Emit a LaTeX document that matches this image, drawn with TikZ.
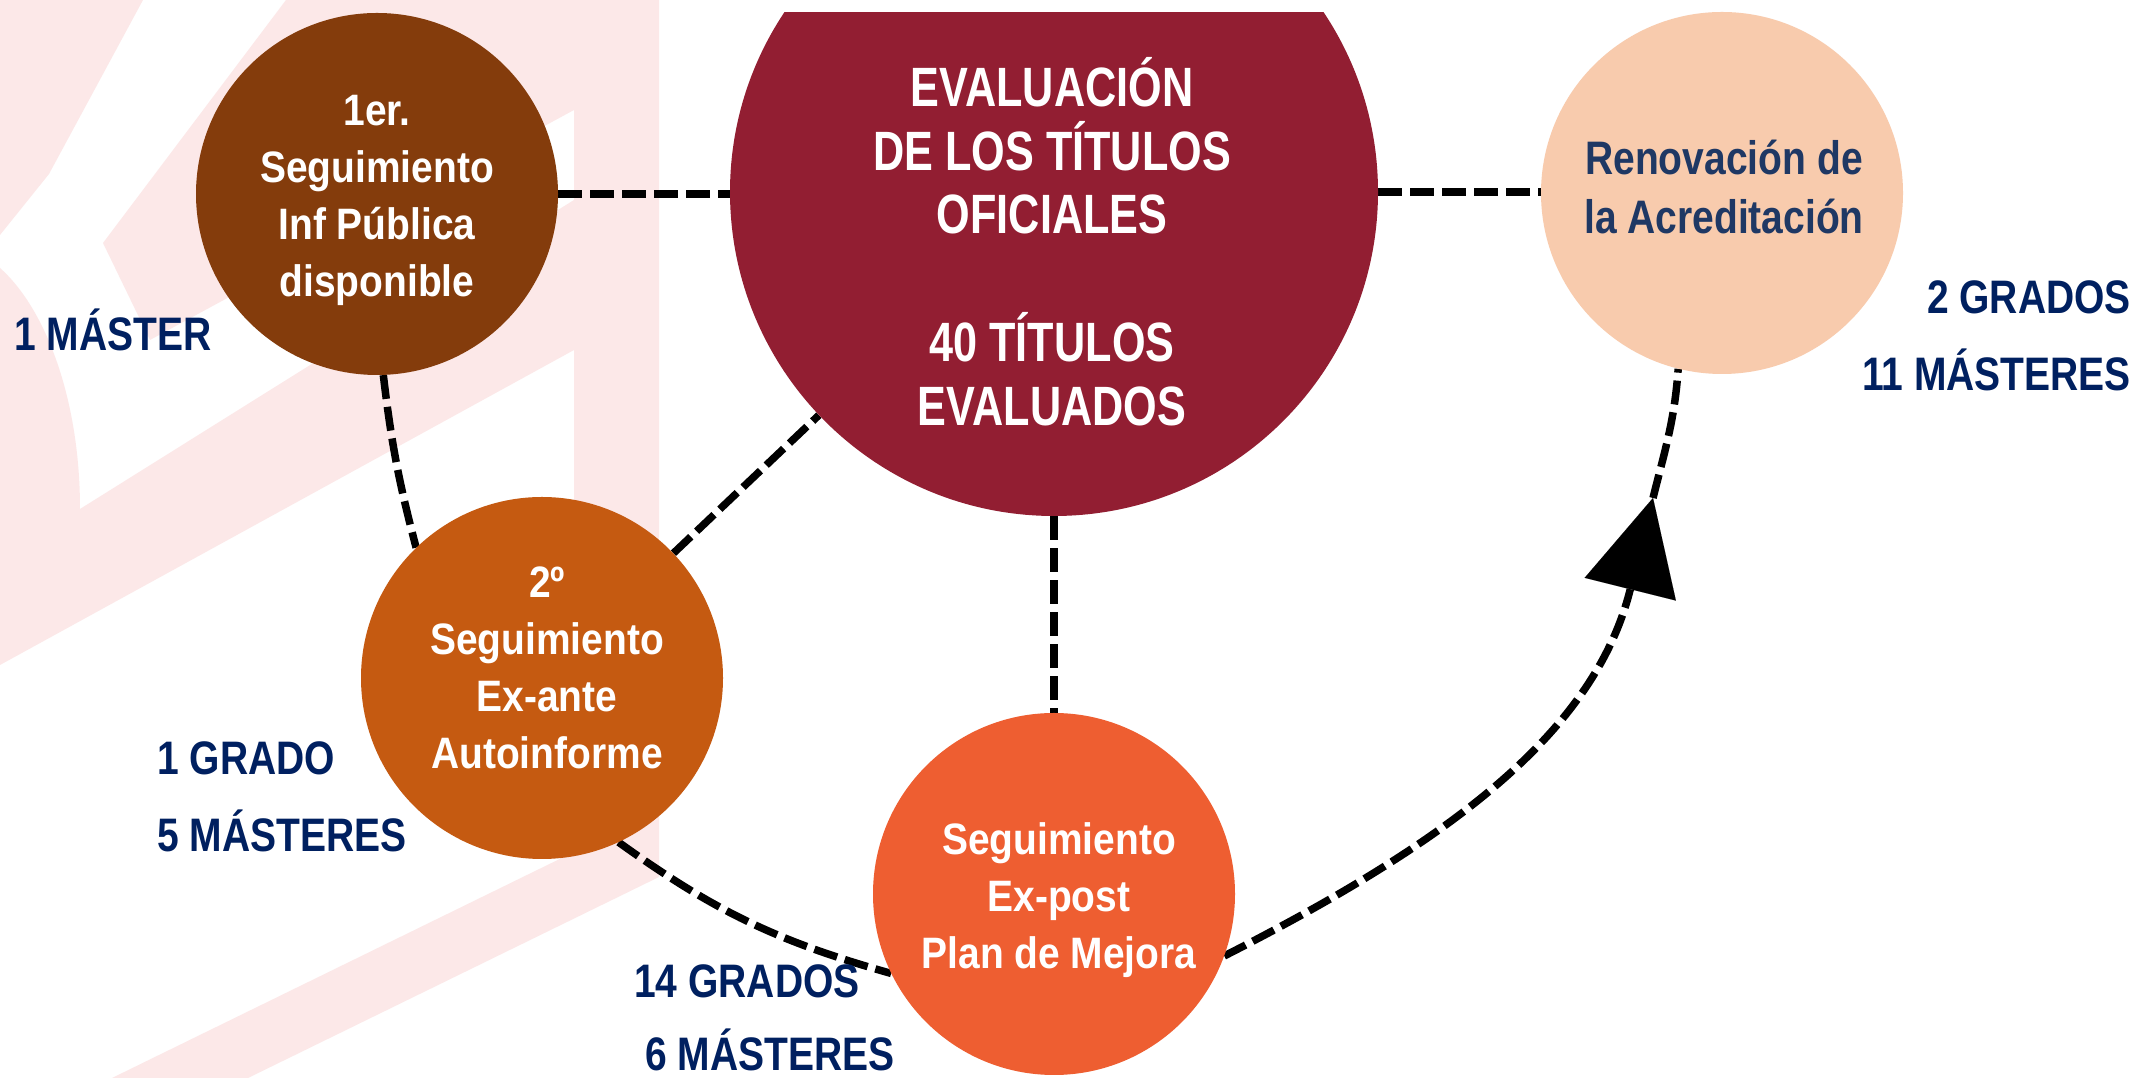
\documentclass[tikz,border=0pt]{standalone}
\usepackage{fontspec}
\setmainfont{Liberation Sans}
\newfontfamily\nfA[FakeStretch=0.885]{Liberation Sans}
\newfontfamily\nfB[FakeStretch=0.78]{Liberation Sans}
\newfontfamily\nfC[FakeStretch=0.83]{Liberation Sans}
\usetikzlibrary{arrows.meta}
\definecolor{cA}{HTML}{843C0C}
\definecolor{cB}{HTML}{C55A11}
\definecolor{cBig}{HTML}{921E32}
\definecolor{cReno}{HTML}{F8CBAD}
\definecolor{cPost}{HTML}{EE5E31}
\definecolor{renotxt}{HTML}{1F3864}
\definecolor{lbl}{HTML}{002060}
\definecolor{pinkbg}{HTML}{FCE8E8}
\pgfdeclarelayer{pinklayer}
\pgfdeclarelayer{linelayer}
\pgfsetlayers{pinklayer,linelayer,main}
\begin{document}
\begin{tikzpicture}[x=1pt,y=1pt,
  bubble/.style={circle, inner sep=0pt, minimum size=362pt, draw=none},
  ctext/.style={text=white, font=\nfA\bfseries\fontsize{44}{57}\selectfont, align=center, inner sep=0pt},
  lbltext/.style={text=lbl, font=\nfC\bfseries\fontsize{47}{77}\selectfont, inner sep=0pt},
  conn/.style={line width=7.5pt, dash pattern=on 24pt off 8pt, black},
]
\useasboundingbox (0,0) rectangle (2141,1078);
\begin{pgfonlayer}{pinklayer}
\fill[white] (0,0) rectangle (2141,1078);
% vertical band with lower diagonal stripe
\fill[pinkbg] (574,1078) -- (659,1078) -- (659,201) -- (248,0) -- (112,0) -- (574,226) -- cycle;
% top-left wedge
\fill[pinkbg] (0,1078) -- (143,1078) -- (49,904) -- (0,843) -- cycle;
% upper stroke behind the first circle
\fill[pinkbg] (286,1078) -- (574,1078) -- (574,968) -- (150,738) -- (103,835) -- cycle;
% left arc joined to the middle diagonal stripe
\fill[pinkbg] (0,810) .. controls (45,770) and (80,680) .. (80,569)
  -- (574,878) -- (574,728) -- (0,413) -- cycle;
\end{pgfonlayer}

% circles
\node[bubble, fill=cA] (c1) at (377,884) {};
\node[bubble, fill=cB] (c2) at (542,400) {};
\begin{scope}
  \clip (0,0) rectangle (2141,1065);
  \node[bubble, minimum size=648pt, fill=cBig] (big) at (1054,886) {};
\end{scope}
\node[bubble, fill=cReno] (reno) at (1722,885) {};
\node[bubble, fill=cPost] (expost) at (1054,184) {};

% circle texts
\node[ctext] (t1) at (377,877.5) {1er.\\Seguimiento\\Inf Pública\\disponible};
\node[ctext] (t2) at (547,410) {2º\\Seguimiento\\Ex-ante\\Autoinforme};
\node[ctext] (t5) at (1059,177.6) {Seguimiento\\Ex-post\\Plan de Mejora};
\node[ctext, font=\nfB\bfseries\fontsize{55.4}{63.7}\selectfont] (t3) at (1052,836.5)
  {EVALUACIÓN\\DE LOS TÍTULOS\\OFICIALES\\[63.7pt]40 TÍTULOS\\EVALUADOS};
\node[ctext, text=renotxt, font=\nfC\bfseries\fontsize{47}{58.5}\selectfont] (t4) at (1724,891)
  {Renovación de\\la Acreditación};

% labels
\node[lbltext, anchor=base west] (l1) at (14,727.6) {1 MÁSTER};
\node[lbltext, anchor=base west] (l2a) at (157,303.4) {1 GRADO};
\node[lbltext, anchor=base west] (l2b) at (157,226) {5 MÁSTERES};
\node[lbltext, anchor=base west] (l3a) at (634,80) {14 GRADOS};
\node[lbltext, anchor=base west] (l3b) at (645,7) {6 MÁSTERES};
\node[lbltext, anchor=base east] (l4a) at (2131,764.6) {2 GRADOS};
\node[lbltext, anchor=base east] (l4b) at (2131,687.2) {11 MÁSTERES};

% connectors
\begin{pgfonlayer}{linelayer}
\draw[conn] (c1.east) -- (c1.east -| big.west);
\draw[conn] (big.east) -- (big.east -| reno.west);
\draw[conn] (big.south) -- (expost.north);
\draw[conn] (c2) -- (big);
\draw[conn] (c1.-88) to[bend right=4] (c2.134);
\draw[conn] (c2.-65) to[bend right=10] (expost.-154);
\coordinate (tip) at (1653,580);
\draw[conn, -{Triangle[length=94pt,width=94pt,line width=0.01pt]}] (expost.-20) to[out=27,in=256] (tip);
\draw[conn] (tip) to[out=76,in=266] (reno.-104);
\end{pgfonlayer}
\end{tikzpicture}
\end{document}
